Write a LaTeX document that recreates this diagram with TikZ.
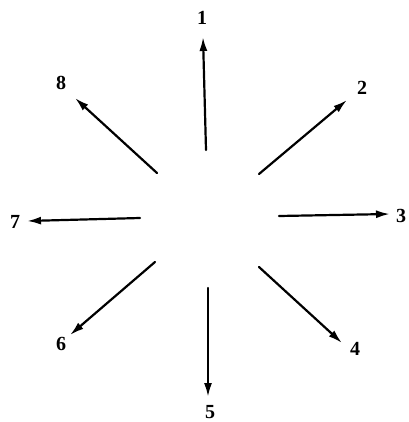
\documentclass[tikz,border=0pt]{standalone}
\usepackage{fontspec}
\setmainfont{Liberation Serif}
\usetikzlibrary{arrows.meta}

\tikzset{
  ray/.style={line width=2.2pt, line cap=round, -{Latex[length=14pt,width=8pt]}},
  num/.style={font=\fontsize{20}{24}\selectfont\bfseries, inner sep=0pt},
}

\begin{document}
\begin{tikzpicture}[x=1pt,y=-1pt]
  \useasboundingbox (0,0) rectangle (408,422);
  % Tails near the centre.
  \coordinate (t1) at (206,150);
  \coordinate (t2) at (259,174);
  \coordinate (t3) at (279,216);
  \coordinate (t4) at (259,267);
  \coordinate (t5) at (208,288);
  \coordinate (t6) at (155,262);
  \coordinate (t7) at (140,218);
  \coordinate (t8) at (157,173);
  % Tips.
  \coordinate (h1) at (203,37);
  \coordinate (h2) at (347,100);
  \coordinate (h3) at (390,214);
  \coordinate (h4) at (342,343);
  \coordinate (h5) at (208,397);
  \coordinate (h6) at (70,335);
  \coordinate (h7) at (27,221);
  \coordinate (h8) at (75,98);
  % Direction numbers.
  \node[num] (n1) at (202,18) {1};
  \node[num] (n2) at (362,88) {2};
  \node[num] (n3) at (401,216) {3};
  \node[num] (n4) at (355,349) {4};
  \node[num] (n5) at (210,412) {5};
  \node[num] (n6) at (61,344) {6};
  \node[num] (n7) at (15,222) {7};
  \node[num] (n8) at (61,83) {8};
  % The eight rays.
  \draw[ray] (t1) -- (h1);
  \draw[ray] (t2) -- (h2);
  \draw[ray] (t3) -- (h3);
  \draw[ray] (t4) -- (h4);
  \draw[ray] (t5) -- (h5);
  \draw[ray] (t6) -- (h6);
  \draw[ray] (t7) -- (h7);
  \draw[ray] (t8) -- (h8);
\end{tikzpicture}
\end{document}
